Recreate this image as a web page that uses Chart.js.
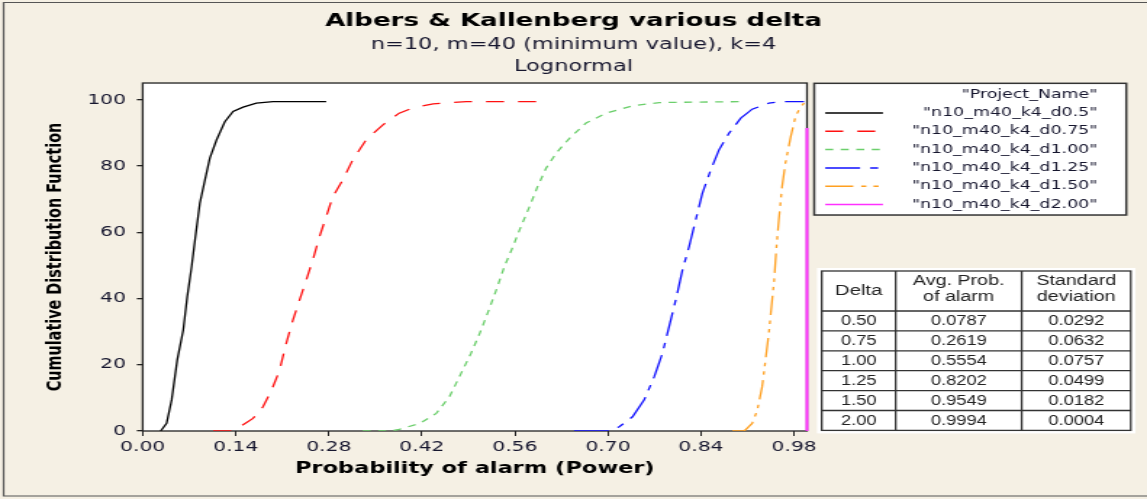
<!DOCTYPE html>
<html>
<head>
<meta charset="utf-8">
<title>Albers &amp; Kallenberg various delta</title>
<script src="https://cdn.jsdelivr.net/npm/chart.js@4.4.1/dist/chart.umd.min.js"></script>
<style>
  html, body { margin: 0; padding: 0; background: #F5F0E4; overflow: hidden; }
  /* the chart is laid out narrow and widened horizontally, like the source graph window */
  #wrap { width: 791px; height: 499px; transform: scaleX(1.45006); transform-origin: 0 0; }
  canvas { display: block; }
</style>
</head>
<body>
<div id="wrap"><canvas id="cdf" width="791" height="499"></canvas></div>
<script>
// ---- titles and axis labels ----
const chartTitle = 'Albers & Kallenberg various delta';
const chartSubtitle = ['n=10, m=40 (minimum value), k=4', 'Lognormal'];
const xAxisTitle = 'Probability of alarm (Power)';
const yAxisTitle = 'Cumulative Distribution Function';
const legendTitle = '"Project_Name"';
const xTickValues = [0, 0.14, 0.28, 0.42, 0.56, 0.70, 0.84, 0.98];
const yTickValues = [0, 20, 40, 60, 80, 100];

// ---- series names ----
const seriesNames = [
  '"n10_m40_k4_d0.5"',
  '"n10_m40_k4_d0.75"',
  '"n10_m40_k4_d1.00"',
  '"n10_m40_k4_d1.25"',
  '"n10_m40_k4_d1.50"',
  '"n10_m40_k4_d2.00"'
];

// ---- empirical CDFs: power (x) and cumulative percent (y) ----
const powerD050 = [0.027, 0.036, 0.0436, 0.052, 0.061, 0.067, 0.0736, 0.080, 0.086, 0.0936, 0.101, 0.111, 0.1236, 0.136, 0.151, 0.171, 0.196, 0.276];
const cdfD050   = [0, 2.3, 9.4, 21.5, 30.5, 40.6, 49.6, 59.7, 68.8, 75.8, 82.4, 87.9, 93.4, 96.5, 97.8, 99.0, 99.5, 99.5];

const powerD075 = [0.106, 0.134, 0.146, 0.166, 0.181, 0.194, 0.206, 0.216, 0.226, 0.236, 0.246, 0.256, 0.266, 0.276, 0.286, 0.301, 0.316, 0.336, 0.361, 0.386, 0.407, 0.437, 0.487, 0.597];
const cdfD075   = [0, 0, 1.3, 3.8, 7.3, 12.4, 18.4, 26.5, 33.5, 39.6, 45.6, 51.7, 58.7, 64.7, 70.8, 75.8, 81.9, 87.9, 92.4, 96.0, 97.6, 98.8, 99.5, 99.5];

const powerD100 = [0.331, 0.371, 0.386, 0.417, 0.4416, 0.4616, 0.479, 0.494, 0.507, 0.519, 0.532, 0.544, 0.557, 0.569, 0.582, 0.594, 0.607, 0.622, 0.642, 0.667, 0.697, 0.737, 0.777, 0.907];
const cdfD100   = [0, 0, 0.5, 2.3, 5.3, 10.4, 17.4, 23.5, 29.5, 35.6, 42.6, 49.6, 55.7, 61.7, 67.8, 73.8, 79.4, 83.9, 88.4, 93.0, 96.0, 98.2, 99.2, 99.5];

const powerD125 = [0.649, 0.702, 0.717, 0.737, 0.7545, 0.7696, 0.782, 0.792, 0.802, 0.812, 0.822, 0.832, 0.842, 0.8547, 0.867, 0.882, 0.8998, 0.917, 0.942, 0.962, 0.995];
const cdfD125   = [0, 0, 1.3, 4.3, 9.4, 16.4, 23.5, 31.5, 39.6, 48.6, 55.7, 63.7, 71.8, 78.9, 84.9, 89.9, 94.5, 97.2, 99.0, 99.5, 99.5];

const powerD150 = [0.887, 0.905, 0.917, 0.9247, 0.932, 0.937, 0.942, 0.946, 0.950, 0.9535, 0.957, 0.962, 0.967, 0.975, 0.982, 0.990, 0.995];
const cdfD150   = [0, 0, 2.3, 6.3, 13.4, 21.5, 29.5, 37.6, 45.6, 55.7, 63.7, 73.8, 80.9, 88.9, 94.9, 98.0, 99.0];

const powerD200 = [0.9994, 0.9994];
const cdfD200   = [0, 91.5];

// ---- summary table ----
const tableHeader = [['Delta'], ['Avg. Prob.', 'of alarm'], ['Standard', 'deviation']];
const deltaValues = ['0.50', '0.75', '1.00', '1.25', '1.50', '2.00'];
const avgProbValues = ['0.0787', '0.2619', '0.5554', '0.8202', '0.9549', '0.9994'];
const stdDevValues = ['0.0292', '0.0632', '0.0757', '0.0499', '0.0182', '0.0004'];

// ---- styling ----
const seriesColors = ['#000000', '#ff1010', '#6ccf6c', '#1010ff', '#ffa020', '#ff30ff'];
const seriesDashes = [[], [12.4, 9.7], [5.5, 5.2], [24, 7, 5.5, 7], [19.3, 5.5, 3.5, 5, 3.5, 5.5], []];
const seriesWidths = [1.3, 1.3, 1.3, 1.3, 1.3, 2];

const xs = [powerD050, powerD075, powerD100, powerD125, powerD150, powerD200];
const ys = [cdfD050, cdfD075, cdfD100, cdfD125, cdfD150, cdfD200];

const datasets = seriesNames.map((name, i) => ({
  label: name,
  data: xs[i].map((x, j) => ({ x: x, y: ys[i][j] })),
  borderColor: seriesColors[i],
  backgroundColor: seriesColors[i],
  borderDash: seriesDashes[i],
  borderWidth: seriesWidths[i],
  showLine: true,
  pointRadius: 0,
  tension: 0,
  fill: false,
  clip: i === 5 ? false : undefined
}));

const TEXT = '#16162e';
const FRAME = '#222222';

// background, outer frame and white plot region
const panelPlugin = {
  id: 'panel',
  beforeDraw(chart) {
    const { ctx, width, height, chartArea: a } = chart;
    ctx.save();
    ctx.fillStyle = '#F5F0E4';
    ctx.fillRect(0, 0, width, height);
    ctx.strokeStyle = '#555555';
    ctx.lineWidth = 1.2;
    ctx.beginPath();
    ctx.moveTo(width, 2.5);
    ctx.lineTo(2.5, 2.5);
    ctx.lineTo(2.5, height - 3);
    ctx.lineTo(width, height - 3);
    ctx.stroke();
    ctx.fillStyle = '#ffffff';
    ctx.fillRect(a.left, a.top, a.right - a.left, a.bottom - a.top);
    ctx.restore();
  },
  beforeDatasetsDraw(chart) {
    const { ctx, chartArea: a } = chart;
    ctx.save();
    ctx.strokeStyle = FRAME;
    ctx.lineWidth = 1.3;
    ctx.strokeRect(a.left, a.top, a.right - a.left, a.bottom - a.top);
    ctx.restore();
  }
};

// legend box and summary table to the right of the plot
const sidePlugin = {
  id: 'side',
  afterDraw(chart) {
    const { ctx, chartArea: a } = chart;
    ctx.save();

    // legend
    const lx = a.right + 5, ly = a.top + 0.3, lw = 215.2, lh = 131.7;
    ctx.fillStyle = '#ffffff';
    ctx.fillRect(lx, ly, lw, lh);
    ctx.strokeStyle = '#333333';
    ctx.lineWidth = 1.5;
    ctx.strokeRect(lx, ly, lw, lh);

    const textRight = lx + 195.2;
    ctx.font = '12px "DejaVu Sans"';
    ctx.textAlign = 'right';
    ctx.textBaseline = 'middle';
    ctx.fillStyle = TEXT;
    ctx.fillText(legendTitle, textRight, ly + 12);
    chart.data.datasets.forEach((ds, i) => {
      const y = ly + 29.7 + i * 18.3;
      ctx.save();
      ctx.strokeStyle = ds.borderColor;
      ctx.lineWidth = 1.5;
      ctx.setLineDash(ds.borderDash || []);
      ctx.beginPath();
      ctx.moveTo(lx + 7.6, y);
      ctx.lineTo(lx + 47.4, y);
      ctx.stroke();
      ctx.restore();
      ctx.fillStyle = TEXT;
      ctx.fillText(ds.label, textRight, y);
    });

    // table
    const tx0 = a.right + 10.2, tx3 = a.right + 223.3;
    const cols = [tx0, a.right + 61.2, a.right + 148.1, tx3];
    const ty0 = 271, tyHead = 311, rowH = 19.9;
    const ty1 = tyHead + rowH * deltaValues.length;
    ctx.fillStyle = '#ffffff';
    ctx.fillRect(tx0 - 3.3, ty0 - 3, tx3 - tx0 + 6.6, ty1 - ty0 + 6);
    ctx.strokeStyle = '#333333';
    ctx.lineWidth = 1.3;
    ctx.strokeRect(tx0, ty0, tx3 - tx0, ty1 - ty0);
    ctx.beginPath();
    for (let c = 1; c < 3; c++) {
      ctx.moveTo(cols[c], ty0);
      ctx.lineTo(cols[c], ty1);
    }
    for (let r = 0; r < deltaValues.length; r++) {
      const y = tyHead + r * rowH;
      ctx.moveTo(tx0, y);
      ctx.lineTo(tx3, y);
    }
    ctx.stroke();

    ctx.fillStyle = '#222222';
    ctx.textAlign = 'center';
    ctx.textBaseline = 'middle';
    const cellText = (txt, cx, cy, sx) => {
      ctx.save();
      ctx.translate(cx, cy);
      ctx.scale(sx, 1);
      ctx.fillText(txt, 0, 0);
      ctx.restore();
    };
    ctx.font = '14px "Liberation Sans", Arial, sans-serif';
    tableHeader.forEach((lines, c) => {
      const cx = (cols[c] + cols[c + 1]) / 2;
      if (lines.length === 1) {
        cellText(lines[0], cx, 291.5, 1);
      } else {
        cellText(lines[0], cx, 281, 0.97);
        cellText(lines[1], cx, 297.5, 0.97);
      }
    });
    const colsData = [deltaValues, avgProbValues, stdDevValues];
    colsData.forEach((vals, c) => {
      const cx = (cols[c] + cols[c + 1]) / 2;
      vals.forEach((v, r) => {
        cellText(v, cx, tyHead + rowH * (r + 0.5) + 0.5, 0.9);
      });
    });
    ctx.restore();
  }
};

new Chart(document.getElementById('cdf'), {
  type: 'scatter',
  data: { datasets: datasets },
  options: {
    responsive: false,
    animation: false,
    devicePixelRatio: 1,
    layout: { padding: 0 },
    plugins: {
      legend: { display: false },
      tooltip: { enabled: false },
      title: {
        display: true,
        text: chartTitle,
        color: '#000000',
        font: { family: 'DejaVu Sans', size: 18, weight: 'bold', lineHeight: 1.2 },
        padding: { top: 11, bottom: 0 }
      },
      subtitle: {
        display: true,
        text: chartSubtitle,
        color: TEXT,
        font: { family: 'DejaVu Sans', size: 15.5, lineHeight: 1.42 },
        padding: { top: 1.4, bottom: 5 }
      }
    },
    scales: {
      x: {
        type: 'linear',
        position: 'bottom',
        min: 0,
        max: 0.9994,
        afterBuildTicks: s => { s.ticks = xTickValues.map(v => ({ value: v })); },
        afterFit: s => { s.height = 68; },
        ticks: {
          autoSkip: false,
          maxRotation: 0,
          padding: 3,
          color: TEXT,
          font: { family: 'DejaVu Sans', size: 14 },
          callback: v => Number(v).toFixed(2)
        },
        grid: { drawOnChartArea: false, drawTicks: true, tickLength: 5, color: FRAME, lineWidth: 1 },
        border: { display: false },
        title: {
          display: true,
          text: xAxisTitle,
          color: '#000000',
          font: { family: 'DejaVu Sans', size: 15.5, weight: 'bold', lineHeight: 1.2 },
          padding: { top: 0, bottom: 20.7 }
        }
      },
      y: {
        type: 'linear',
        position: 'left',
        min: 0,
        max: 105.1,
        afterBuildTicks: s => { s.ticks = yTickValues.map(v => ({ value: v })); },
        afterFit: s => { s.width = 98.4; },
        ticks: {
          padding: 7.5,
          color: TEXT,
          font: { family: 'DejaVu Sans', size: 14 }
        },
        grid: { drawOnChartArea: false, drawTicks: true, tickLength: 4, color: FRAME, lineWidth: 1.3 },
        border: { display: false },
        title: {
          display: true,
          text: yAxisTitle,
          color: '#000000',
          font: { family: 'DejaVu Sans', size: 14.4, weight: 'bold', lineHeight: 1.2 },
          padding: { top: 29.4, bottom: 0 }
        }
      },
      side: {
        type: 'linear',
        axis: 'y',
        position: 'right',
        display: true,
        afterFit: s => { s.width = 234.5; },
        ticks: { display: false },
        grid: { display: false },
        border: { display: false }
      }
    }
  },
  plugins: [panelPlugin, sidePlugin]
});
</script>
</body>
</html>
